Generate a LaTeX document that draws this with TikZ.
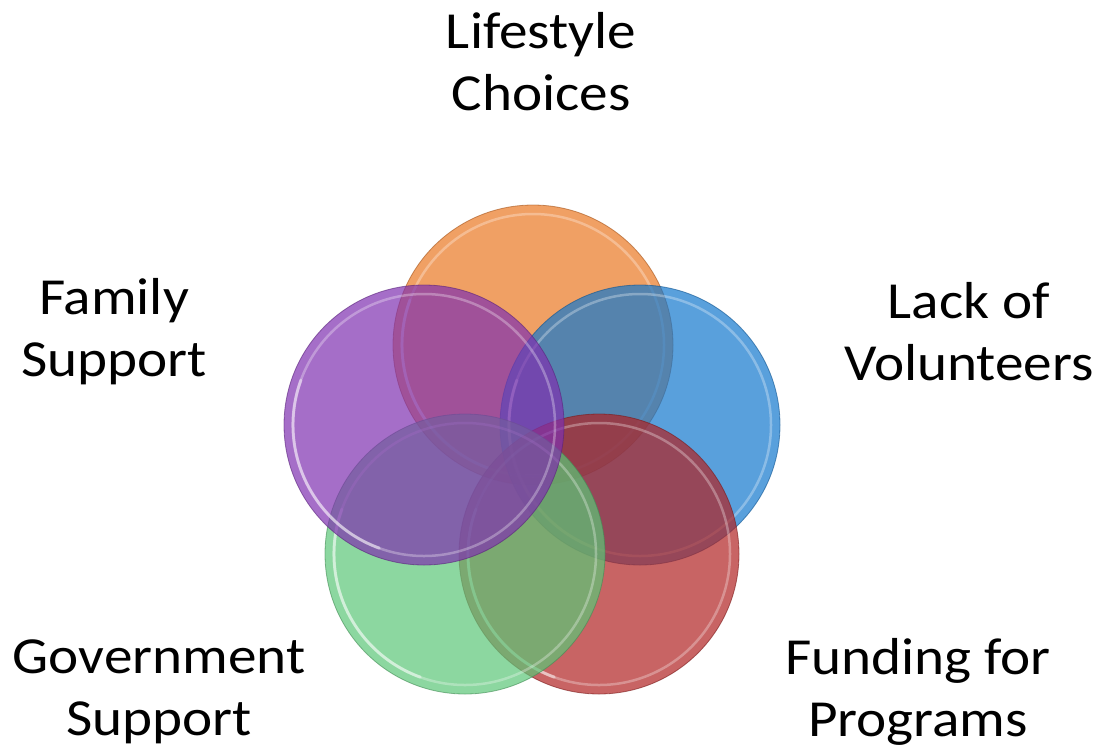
\documentclass[tikz,border=0pt]{standalone}
\usepackage{fontspec}
\setmainfont{Carlito}[FakeStretch=1.1]
\definecolor{cOrange}{RGB}{234,119,34}
\definecolor{cBlue}{RGB}{19,119,205}
\definecolor{cRed}{RGB}{176,34,34}
\definecolor{cGreen}{RGB}{91,198,119}
\definecolor{cPurple}{RGB}{127,48,176}
\begin{document}
\begin{tikzpicture}[x=1pt,y=-1pt,
 bubble/.style={circle,minimum size=280pt,inner sep=0pt,fill=#1,fill opacity=.7,draw=#1!70!black,draw opacity=.6,line width=.8pt},
 rim/.style={draw=white,draw opacity=.3,line width=2.5pt},
 shine/.style={draw=white,draw opacity=.45,line width=3pt,line cap=round},
 txt/.style={font=\fontsize{52}{62}\selectfont,inner sep=0pt,align=center}]
 \useasboundingbox (0,0) rectangle (1102,750);
 % the five overlapping circles
 \foreach \name/\col/\x/\y in {orange/cOrange/533/345,blue/cBlue/640/425,red/cRed/599/554,green/cGreen/465/554,purple/cPurple/424/425}{
  \node[bubble=\col] (\name) at (\x,\y) {};
  \draw[rim] (\name.center) circle (131pt);
  \draw[shine] (\name.center) ++(160:131pt) arc[start angle=160,end angle=250,radius=131pt];
 }
 % labels
 \node[txt] (lifestyle) at (541,62) {Lifestyle\\Choices};
 \node[txt] (family) at (114,332) {Family\\Support};
 \node[txt] (lack) at (969,332) {Lack of\\Volunteers};
 \node[txt] (government) at (159,692) {Government\\Support};
 \node[txt] (funding) at (918,692) {Funding for\\Programs};
\end{tikzpicture}
\end{document}
